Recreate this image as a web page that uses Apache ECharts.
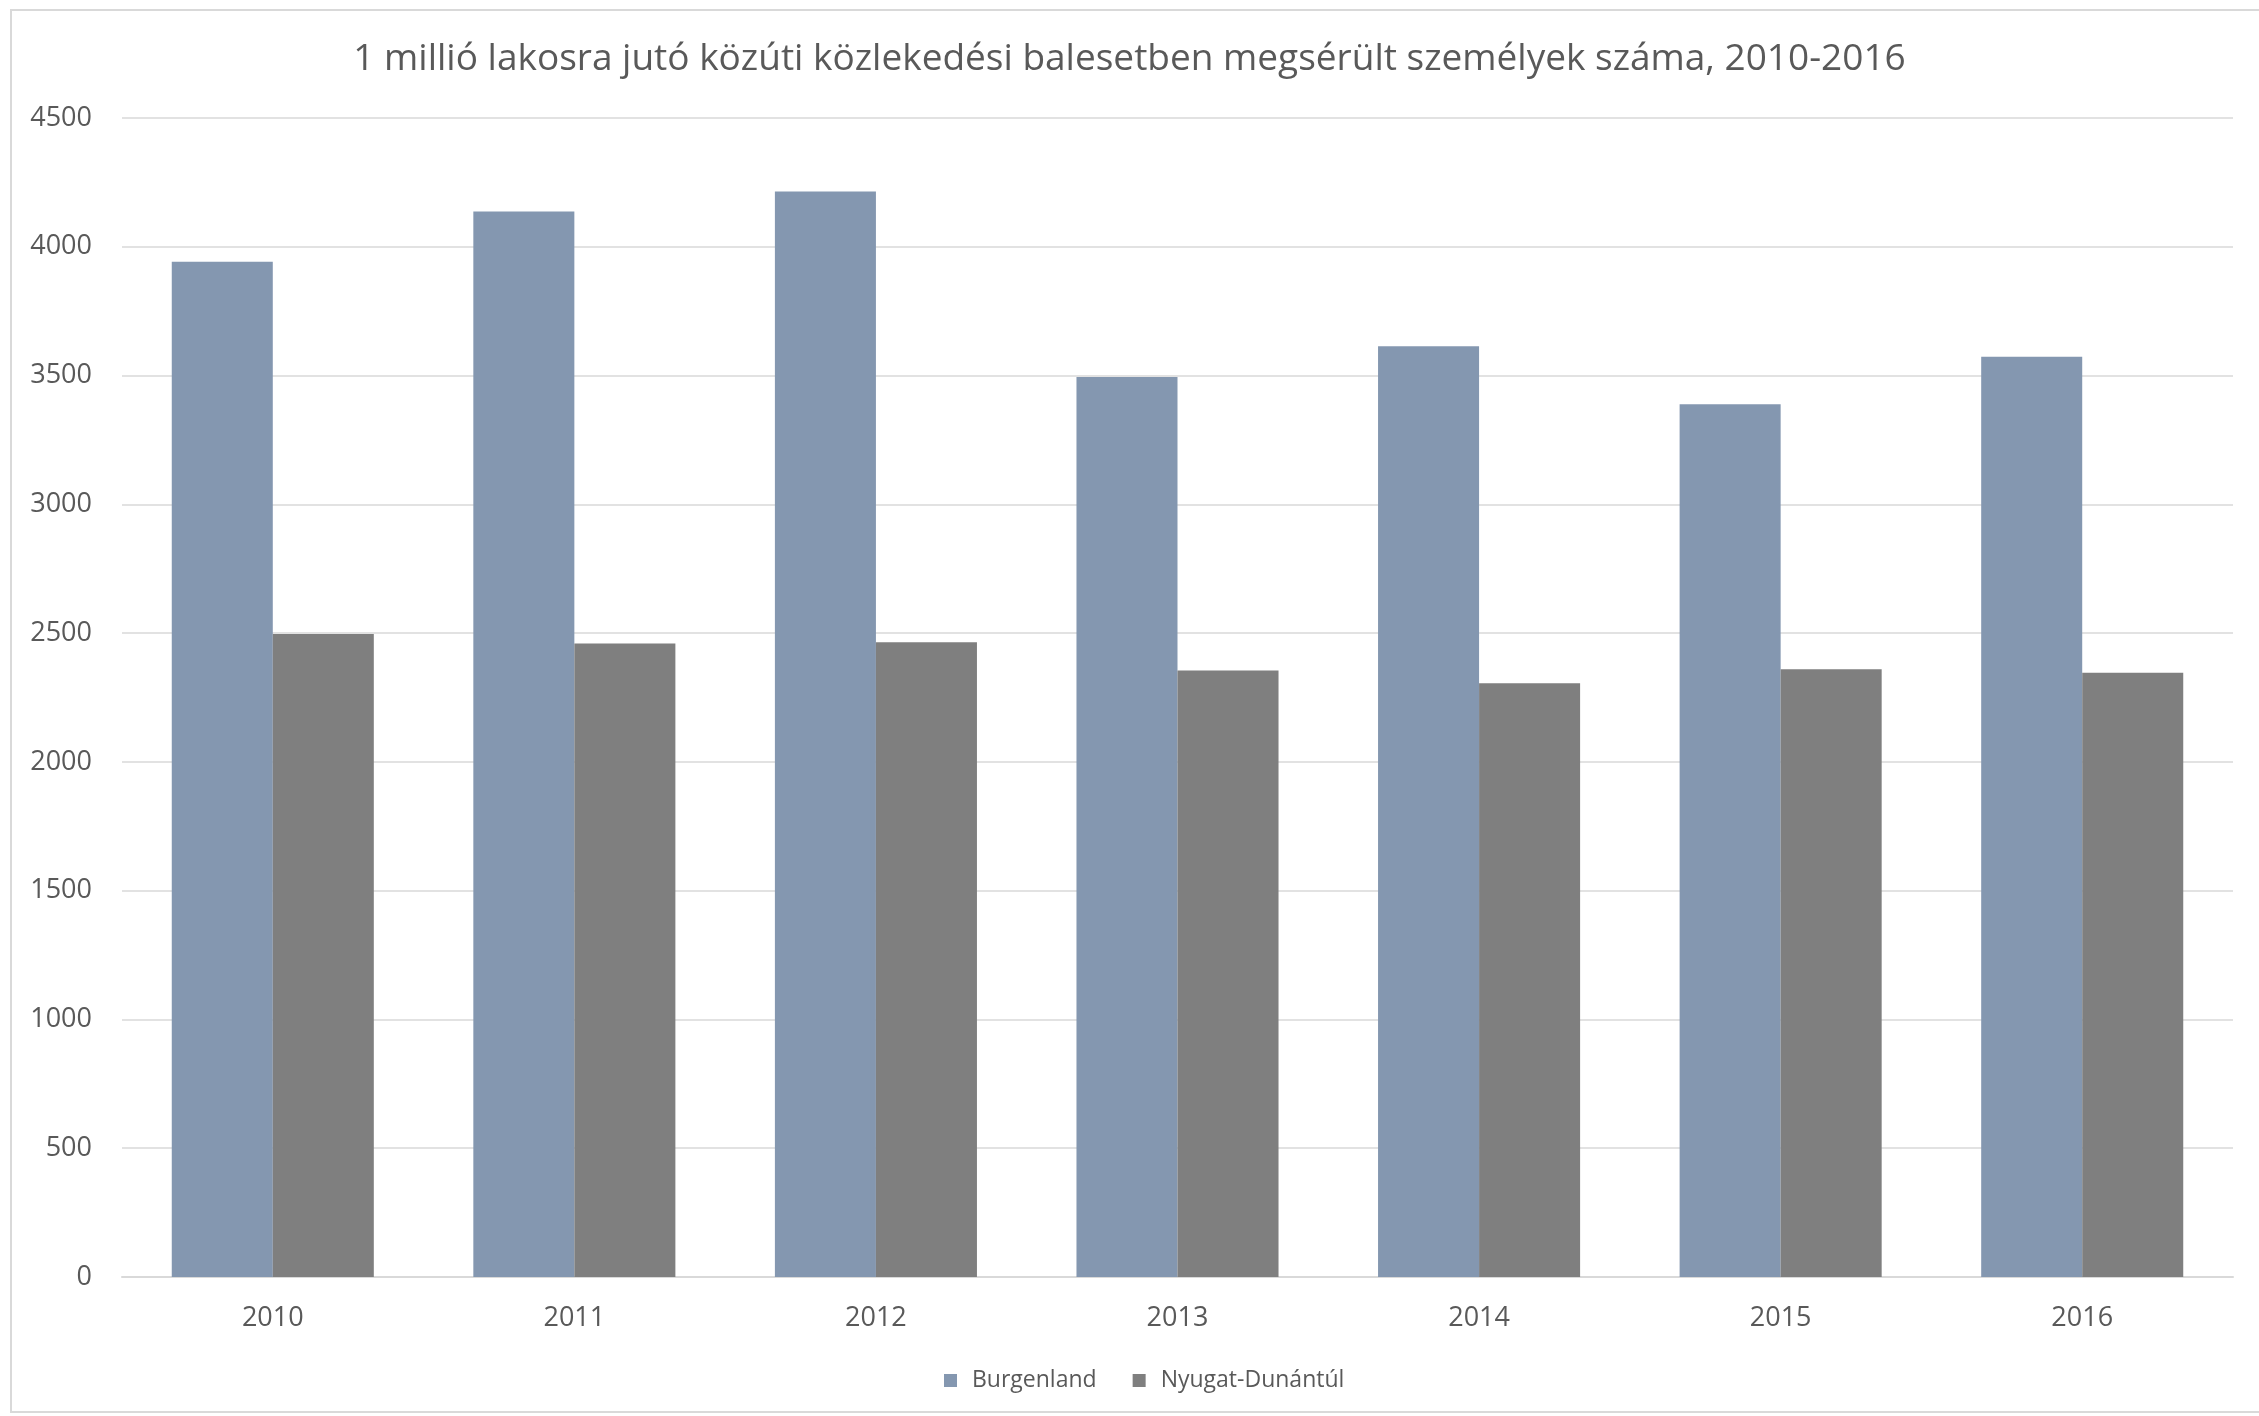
<!DOCTYPE html>
<html><head><meta charset="utf-8">
<script src="https://cdn.jsdelivr.net/npm/echarts@6/dist/echarts.min.js"></script>
<style>html,body{margin:0;padding:0;background:#fff}#c{width:2259px;height:1416px}</style>
</head><body><div id="c"></div>
<script>
const years = ['2010','2011','2012','2013','2014','2015','2016'];
const burgenland = [3942, 4137, 4215, 3494, 3614, 3389, 3573];
const nyugatDunantul = [2497, 2460, 2465, 2355, 2305, 2360, 2346];
const seriesNames = ['Burgenland', 'Nyugat-Dunántúl'];
const titleText = '1 millió lakosra jutó közúti közlekedési balesetben megsérült személyek száma, 2010-2016';

const chart = echarts.init(document.getElementById('c'));
const font = 'Open Sans, Noto Sans, sans-serif';
chart.setOption({
  backgroundColor: '#fff',
  animation: false,
  graphic: [{type:'rect', shape:{x:11, y:10, width:2259, height:1402}, style:{fill:'none', stroke:'#d9d9d9', lineWidth:2}, silent:true}],
  title: {text: titleText, left: 'center', top: 36, textStyle:{fontFamily: font, fontWeight:'normal', fontSize: 37, color:'#595959'}},
  legend: {bottom: 19, left: 939, itemWidth: 13, itemHeight: 13, itemGap: 36, icon:'rect',
    textStyle:{fontFamily: font, fontSize: 23, color:'#595959', padding:[0,0,0,10]}},
  grid: {left: 122, right: 26, top: 118, bottom: 139, containLabel: false},
  xAxis: {type:'category', data: years,
    axisLine:{lineStyle:{color:'#d9d9d9', width:2}}, axisTick:{show:false},
    axisLabel:{fontFamily: font, fontSize: 27, color:'#595959', margin: 28}},
  yAxis: {type:'value', min:0, max:4500, interval:500,
    axisLine:{show:false}, axisTick:{show:false},
    splitLine:{lineStyle:{color:'#d9d9d9', width:1.5}},
    axisLabel:{fontFamily: font, fontSize: 27, color:'#595959', margin: 30, formatter: v => String(v)}},
  series: [
    {name: seriesNames[0], type:'bar', data: burgenland, barGap:'0%', barCategoryGap:'33%', itemStyle:{color:'#8497b0'}},
    {name: seriesNames[1], type:'bar', data: nyugatDunantul, itemStyle:{color:'#7f7f7f'}}
  ]
});
</script></body></html>
